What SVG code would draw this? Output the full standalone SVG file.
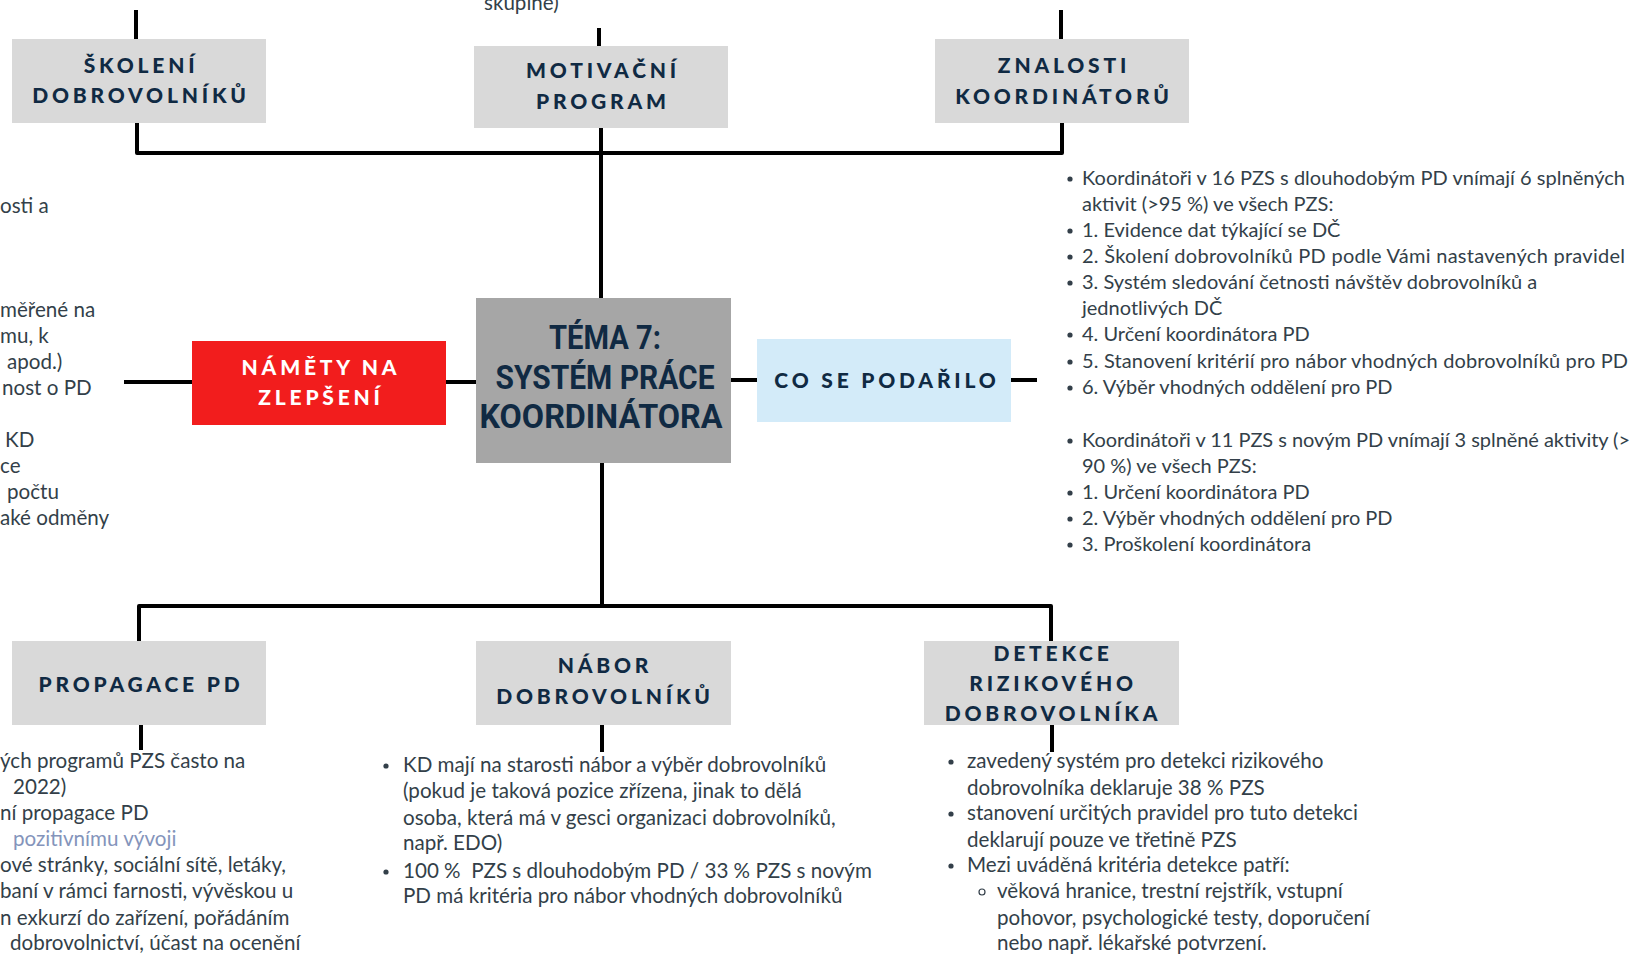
<svg xmlns="http://www.w3.org/2000/svg" width="1634" height="980" viewBox="0 0 1634 980">
  <style>
    .box-grey { fill: #d9d9d9; }
    .box-core { fill: #a6a6a6; }
    .box-red { fill: #f21d1d; }
    .box-blue { fill: #d3ebf9; }
    .hd { font-family: Lato, "Open Sans", sans-serif; font-weight: 900; font-size: 21px; letter-spacing: 3.8px; fill: #102a43; text-anchor: middle; }
    .hd-white { fill: #ffffff; }
    .title { font-family: Roboto, "Liberation Sans", sans-serif; font-weight: 700; font-size: 34px; fill: #102a43; text-anchor: middle; }
    .body { font-family: Lato, "Open Sans", sans-serif; font-size: 20.6px; fill: #333f49; }
    .body-r { font-family: Lato, "Open Sans", sans-serif; font-size: 20px; fill: #333f49; }
    .faint { fill: #8494bb; }
    .wire { fill: none; stroke: #000; stroke-width: 4; stroke-linejoin: round; }
    .dot { fill: #333f49; }
    .ring { fill: none; stroke: #333f49; stroke-width: 1.2; }
  </style>

  <rect width="1634" height="980" fill="#ffffff"/>

  <!-- connectors -->
  <g id="connectors" class="wire">
    <path d="M136,10 V39"/>
    <path d="M599,28 V46"/>
    <path d="M1061,10 V39"/>
    <path d="M137,123 V153 H1062 V123"/>
    <path d="M601,128 V298"/>
    <path d="M124,382 H192"/>
    <path d="M446,382 H476"/>
    <path d="M731,380 H757"/>
    <path d="M1011,380 H1037"/>
    <path d="M602,463 V606"/>
    <path d="M139,641 V606 H1051 V641"/>
    <path d="M141,725 V750"/>
    <path d="M602,725 V752"/>
    <path d="M1052,725 V752"/>
  </g>

  <!-- stray text fragments at the page edges -->
  <g id="edge-text" class="body">
    <text x="484" y="10">skupině)</text>
    <text x="0" y="213">osti a</text>
    <text x="0" y="317">měřené na</text>
    <text x="0" y="343">mu, k</text>
    <text x="7" y="369">apod.)</text>
    <text x="2" y="395">nost o PD</text>
    <text x="5" y="447">KD</text>
    <text x="0" y="473">ce</text>
    <text x="7" y="499">počtu</text>
    <text x="0" y="525">aké odměny</text>
  </g>

  <g id="skoleni">
    <rect class="box-grey" x="12" y="39" width="254" height="84"/>
    <text class="hd" x="141" y="73">ŠKOLENÍ</text>
    <text class="hd" x="141" y="103">DOBROVOLNÍKŮ</text>
  </g>

  <g id="motivacni">
    <rect class="box-grey" x="474" y="46" width="254" height="82"/>
    <text class="hd" x="603" y="78">MOTIVAČNÍ</text>
    <text class="hd" x="603" y="109">PROGRAM</text>
  </g>

  <g id="znalosti">
    <rect class="box-grey" x="935" y="39" width="254" height="84"/>
    <text class="hd" x="1064" y="73">ZNALOSTI</text>
    <text class="hd" x="1064" y="104">KOORDINÁTORŮ</text>
  </g>

  <g id="tema">
    <rect class="box-core" x="476" y="298" width="255" height="165"/>
    <text class="title" x="605" y="349" textLength="112" lengthAdjust="spacingAndGlyphs">TÉMA 7:</text>
    <text class="title" x="605" y="389" textLength="219" lengthAdjust="spacingAndGlyphs">SYSTÉM PRÁCE</text>
    <text class="title" x="601" y="428" textLength="243" lengthAdjust="spacingAndGlyphs">KOORDINÁTORA</text>
  </g>

  <g id="namety">
    <rect class="box-red" x="192" y="341" width="254" height="84"/>
    <text class="hd hd-white" x="321" y="375">NÁMĚTY NA</text>
    <text class="hd hd-white" x="321" y="405">ZLEPŠENÍ</text>
  </g>

  <g id="podarilo">
    <rect class="box-blue" x="757" y="339" width="254" height="83"/>
    <text class="hd" x="887" y="388">CO SE PODAŘILO</text>
  </g>

  <g id="podarilo-text">
    <g class="dot">
      <circle cx="1070" cy="179" r="2.6"/>
      <circle cx="1070" cy="231" r="2.6"/>
      <circle cx="1070" cy="257" r="2.6"/>
      <circle cx="1070" cy="283" r="2.6"/>
      <circle cx="1070" cy="335" r="2.6"/>
      <circle cx="1070" cy="362" r="2.6"/>
      <circle cx="1070" cy="388" r="2.6"/>
      <circle cx="1070" cy="441" r="2.6"/>
      <circle cx="1070" cy="493" r="2.6"/>
      <circle cx="1070" cy="519" r="2.6"/>
      <circle cx="1070" cy="545" r="2.6"/>
    </g>
    <g class="body-r">
      <text x="1082" y="185" textLength="543" lengthAdjust="spacing">Koordinátoři v 16 PZS s dlouhodobým PD vnímají 6 splněných</text>
      <text x="1082" y="211">aktivit (&gt;95 %) ve všech PZS:</text>
      <text x="1082" y="237">1. Evidence dat týkající se DČ</text>
      <text x="1082" y="263" textLength="543" lengthAdjust="spacing">2. Školení dobrovolníků PD podle Vámi nastavených pravidel</text>
      <text x="1082" y="289">3. Systém sledování četnosti návštěv dobrovolníků a</text>
      <text x="1082" y="315">jednotlivých DČ</text>
      <text x="1082" y="341">4. Určení koordinátora PD</text>
      <text x="1082" y="368" textLength="546" lengthAdjust="spacing">5. Stanovení kritérií pro nábor vhodných dobrovolníků pro PD</text>
      <text x="1082" y="394">6. Výběr vhodných oddělení pro PD</text>
      <text x="1082" y="447" textLength="548" lengthAdjust="spacing">Koordinátoři v 11 PZS s novým PD vnímají 3 splněné aktivity (&gt;</text>
      <text x="1082" y="473">90 %) ve všech PZS:</text>
      <text x="1082" y="499">1. Určení koordinátora PD</text>
      <text x="1082" y="525">2. Výběr vhodných oddělení pro PD</text>
      <text x="1082" y="551">3. Proškolení koordinátora</text>
    </g>
  </g>

  <g id="propagace">
    <rect class="box-grey" x="12" y="641" width="254" height="84"/>
    <text class="hd" x="141" y="692">PROPAGACE PD</text>
  </g>

  <g id="propagace-text" class="body">
    <text x="0" y="768">ých programů PZS často na</text>
    <text x="13" y="794">2022)</text>
    <text x="0" y="820">ní propagace PD</text>
    <text class="faint" x="13" y="846">pozitivnímu vývoji</text>
    <text x="0" y="872">ové stránky, sociální sítě, letáky,</text>
    <text x="0" y="898">baní v rámci farnosti, vývěskou u</text>
    <text x="0" y="925">n exkurzí do zařízení, pořádáním</text>
    <text x="10" y="950">dobrovolnictví, účast na ocenění</text>
  </g>

  <g id="nabor">
    <rect class="box-grey" x="476" y="641" width="255" height="84"/>
    <text class="hd" x="605" y="673">NÁBOR</text>
    <text class="hd" x="605" y="704">DOBROVOLNÍKŮ</text>
  </g>

  <g id="nabor-text">
    <g class="dot">
      <circle cx="386" cy="766" r="2.6"/>
      <circle cx="386" cy="872" r="2.6"/>
    </g>
    <g class="body">
      <text x="403" y="772">KD mají na starosti nábor a výběr dobrovolníků</text>
      <text x="403" y="798">(pokud je taková pozice zřízena, jinak to dělá</text>
      <text x="403" y="825">osoba, která má v gesci organizaci dobrovolníků,</text>
      <text x="403" y="850">např. EDO)</text>
      <text x="403" y="878" xml:space="preserve">100 %  PZS s dlouhodobým PD / 33 % PZS s novým</text>
      <text x="403" y="903">PD má kritéria pro nábor vhodných dobrovolníků</text>
    </g>
  </g>

  <g id="detekce">
    <rect class="box-grey" x="924" y="641" width="255" height="84"/>
    <text class="hd" x="1053" y="661">DETEKCE</text>
    <text class="hd" x="1053" y="691">RIZIKOVÉHO</text>
    <text class="hd" x="1053" y="721">DOBROVOLNÍKA</text>
  </g>

  <g id="detekce-text">
    <g class="dot">
      <circle cx="951" cy="762" r="2.6"/>
      <circle cx="951" cy="814" r="2.6"/>
      <circle cx="951" cy="866" r="2.6"/>
    </g>
    <circle class="ring" cx="982" cy="892" r="3"/>
    <g class="body">
      <text x="967" y="768">zavedený systém pro detekci rizikového</text>
      <text x="967" y="795">dobrovolníka deklaruje 38 % PZS</text>
      <text x="967" y="820">stanovení určitých pravidel pro tuto detekci</text>
      <text x="967" y="847">deklarují pouze ve třetině PZS</text>
      <text x="967" y="872">Mezi uváděná kritéria detekce patří:</text>
      <text x="997" y="898">věková hranice, trestní rejstřík, vstupní</text>
      <text x="997" y="925">pohovor, psychologické testy, doporučení</text>
      <text x="997" y="950">nebo např. lékařské potvrzení.</text>
    </g>
  </g>
</svg>
